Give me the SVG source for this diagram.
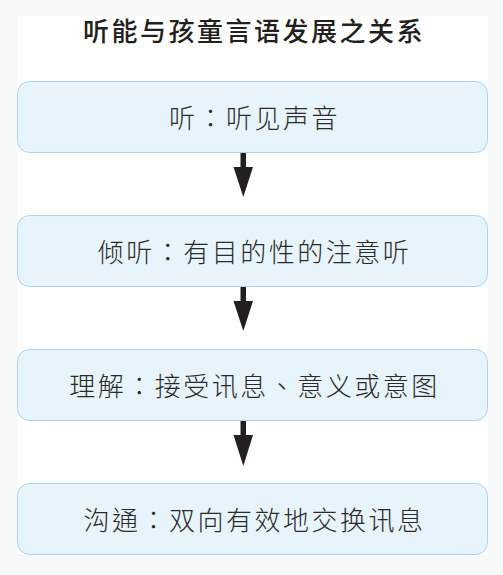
<svg xmlns="http://www.w3.org/2000/svg" width="503" height="575" viewBox="0 0 503 575">
  <defs>
    <style>
      .bg { fill: #f7f9f9; }
      .panel { fill: #ffffff; }
      .box { fill: #e8f4fc; stroke: #a9d3f0; stroke-width: 1; }
      .label { font-family: "Noto Sans CJK TC", "Noto Sans CJK SC", "Noto Sans", sans-serif; font-size: 26px; font-weight: 300; fill: #2a2a2a; letter-spacing: 2.5px; text-anchor: middle; dominant-baseline: central; }
      .title { font-family: "Noto Sans CJK SC", "Noto Sans", sans-serif; font-size: 26px; font-weight: 500; fill: #231f20; letter-spacing: 2.5px; text-anchor: middle; }
      .arrow { fill: #231f20; }
    </style>
  </defs>
  <rect class="bg" x="0" y="0" width="503" height="575"/>
  <rect class="panel" x="17" y="16" width="471" height="538"/>
  <text class="title" x="254" y="41">听能与孩童言语发展之关系</text>

  <g id="connectors">
    <path class="arrow" d="M240.5,153 H246 V167 H253 L243.3,197 L233.5,167 H240.5 Z"/>
    <path class="arrow" d="M240.5,287 H246 V301 H253 L243.3,331 L233.5,301 H240.5 Z"/>
    <path class="arrow" d="M240.5,421 H246 V435 H253 L243.3,466 L233.5,435 H240.5 Z"/>
  </g>

  <g id="node1">
    <rect class="box" x="17.5" y="81.5" width="470" height="71" rx="12"/>
    <text class="label" x="254.5" y="116">听：听见声音</text>
  </g>
  <g id="node2">
    <rect class="box" x="17.5" y="215.5" width="470" height="71" rx="12"/>
    <text class="label" x="254.5" y="250">倾听：有目的性的注意听</text>
  </g>
  <g id="node3">
    <rect class="box" x="17.5" y="349.5" width="470" height="71" rx="12"/>
    <text class="label" x="254.5" y="384">理解：接受讯息、意义或意图</text>
  </g>
  <g id="node4">
    <rect class="box" x="17.5" y="483.5" width="470" height="71" rx="12"/>
    <text class="label" x="254.5" y="518">沟通：双向有效地交换讯息</text>
  </g>
</svg>
